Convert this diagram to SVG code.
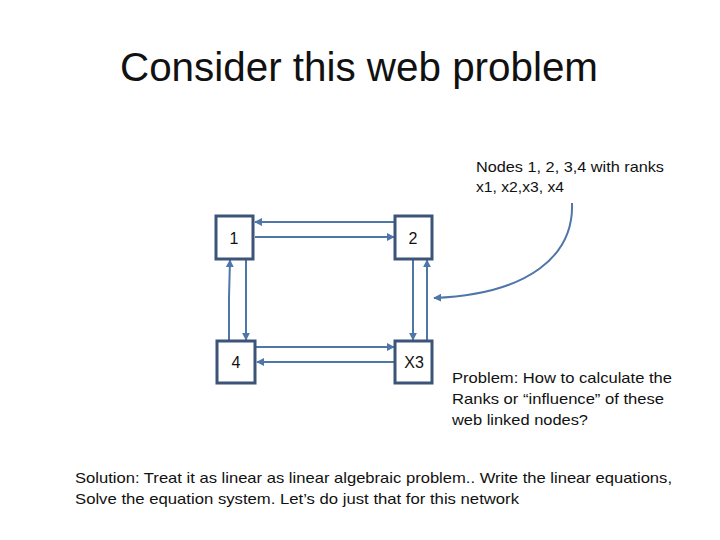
<svg xmlns="http://www.w3.org/2000/svg" width="720" height="540" viewBox="0 0 720 540">
<style>
.t{font-family:"Liberation Sans",Arial,sans-serif;fill:#111;}
.node rect{fill:#fff;stroke:#3c5478;stroke-width:3;}
.node text{font-family:"Liberation Sans",Arial,sans-serif;font-size:16px;fill:#111;text-anchor:middle;}
.edges path{fill:none;stroke:#4f76a8;stroke-width:2;marker-end:url(#ah);}
</style>
<defs>
<marker id="ah" viewBox="0 0 10 10" refX="9" refY="5" markerWidth="4" markerHeight="4" orient="auto" markerUnits="strokeWidth">
<path d="M0,0 L10,5 L0,10 z" fill="#4f76a8"/>
</marker>
</defs>
<rect width="720" height="540" fill="#fff"/>
<text class="t" x="120" y="81" font-size="40" textLength="478" lengthAdjust="spacingAndGlyphs">Consider this web problem</text>
<g class="edges">
<path d="M395,222 L255,222"/>
<path d="M255,237 L394,237"/>
<path d="M229,341 L229,297 L230,260"/>
<path d="M246,260 L246,340"/>
<path d="M413,260 L413,340"/>
<path d="M427,341 L427,260"/>
<path d="M256,347 L394,347"/>
<path d="M395,362 L257,362"/>
<path d="M572,203 C574,255 530,294 434,298"/>
</g>
<g id="node1" class="node"><rect x="216" y="216" width="37" height="43"/><text x="234" y="244">1</text></g>
<g id="node2" class="node"><rect x="395" y="216" width="37" height="43"/><text x="413" y="244">2</text></g>
<g id="node4" class="node"><rect x="217" y="341" width="38" height="42"/><text x="236" y="368">4</text></g>
<g id="node3" class="node"><rect x="395" y="341" width="37" height="42"/><text x="414" y="368">X3</text></g>
<text class="t" x="476" y="172" font-size="15" textLength="188" lengthAdjust="spacingAndGlyphs">Nodes 1, 2, 3,4 with ranks</text>
<text class="t" x="476" y="192" font-size="15" textLength="88" lengthAdjust="spacingAndGlyphs">x1, x2,x3, x4</text>
<text class="t" x="452" y="383" font-size="15" textLength="220" lengthAdjust="spacingAndGlyphs">Problem: How to calculate the</text>
<text class="t" x="452" y="404" font-size="15" textLength="212" lengthAdjust="spacingAndGlyphs">Ranks or “influence” of these</text>
<text class="t" x="452" y="425" font-size="15" textLength="136" lengthAdjust="spacingAndGlyphs">web linked nodes?</text>
<text class="t" x="75" y="483" font-size="15" textLength="597" lengthAdjust="spacingAndGlyphs">Solution: Treat it as linear as linear algebraic problem.. Write the linear equations,</text>
<text class="t" x="75" y="504" font-size="15" textLength="444" lengthAdjust="spacingAndGlyphs">Solve the equation system. Let’s do just that for this network</text>
</svg>
